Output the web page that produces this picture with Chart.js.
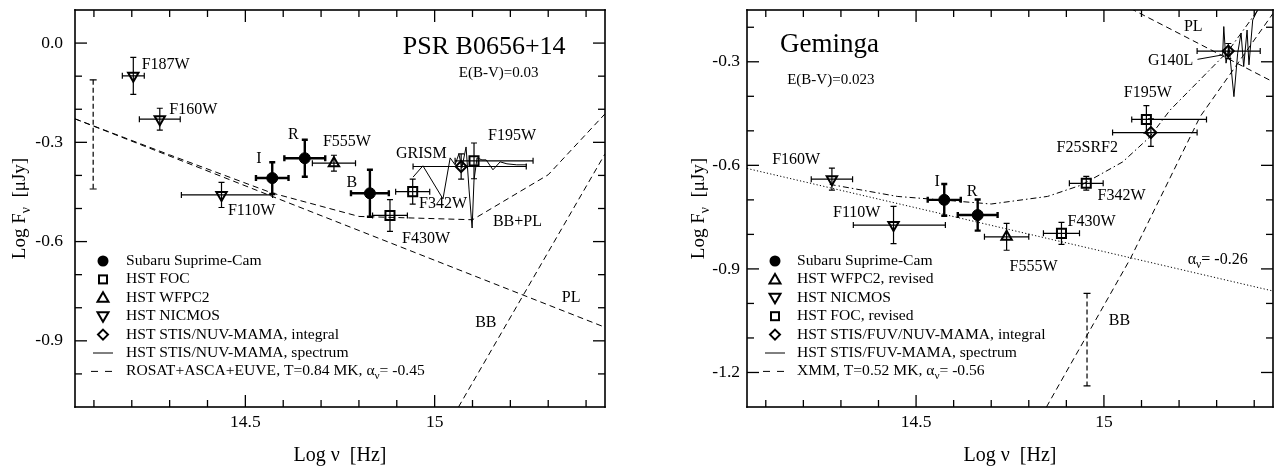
<!DOCTYPE html>
<html><head><meta charset="utf-8">
<script src="https://cdn.jsdelivr.net/npm/chart.js@4.4.1/dist/chart.umd.min.js"></script>
<style>
body{margin:0;background:#fff;width:1282px;height:468px;overflow:hidden;position:relative}
#c1{position:absolute;left:0;top:0}
#c2{position:absolute;left:640px;top:0}
</style></head><body>
<canvas id="c1" width="640" height="468"></canvas>
<canvas id="c2" width="642" height="468"></canvas>
<script>
const FONT = 'Liberation Serif';

// ---------------- shared axis ticks ----------------
const X_MAJOR = [14.5, 15.0];
const X_MAJOR_LABELS = ['14.5', '15'];
const X_MINOR = [14.1,14.2,14.3,14.4,14.6,14.7,14.8,14.9,15.1,15.2,15.3,15.4];

// ---------------- Left panel: PSR B0656+14 ----------------
const L_Y_MAJOR = [0.0, -0.3, -0.6, -0.9];
const L_Y_MAJOR_LABELS = ['0.0', '-0.3', '-0.6', '-0.9'];
const L_Y_MINOR = [-0.1,-0.2,-0.4,-0.5,-0.7,-0.8,-1.0];

const L_SUB_X  = [14.571, 14.657, 14.829];      // I, R, B
const L_SUB_Y  = [-0.408, -0.348, -0.454];
const L_SUB_XE = [0.043, 0.054, 0.050];
const L_SUB_YE = [0.048, 0.056, 0.071];

const L_FOC_X  = [14.882, 14.942, 15.104];      // F430W, F342W, F195W
const L_FOC_Y  = [-0.521, -0.449, -0.356];
const L_FOC_XM = [0.046, 0.045, 0.050];
const L_FOC_XP = [0.046, 0.045, 0.156];
const L_FOC_YE = [0.048, 0.038, 0.054];

const L_WF_X  = [14.734];                        // F555W
const L_WF_Y  = [-0.363];
const L_WF_XE = [0.057];
const L_WF_YE = [0.024];

const L_NIC_X  = [14.204, 14.274, 14.437];       // F187W, F160W, F110W
const L_NIC_Y  = [-0.099, -0.230, -0.459];
const L_NIC_XM = [0.029, 0.054, 0.106];
const L_NIC_XP = [0.029, 0.054, 0.135];
const L_NIC_YE = [0.056, 0.033, 0.038];

const L_STIS_X  = [15.070];
const L_STIS_Y  = [-0.373];
const L_STIS_XM = [0.127];
const L_STIS_XP = [0.172];
const L_STIS_YE = [0.038];

const L_SPEC_X = [14.943,14.969,15.022,15.041,15.054,15.064,15.072,15.083,15.091,15.099,15.104,15.112,15.125,15.136,15.154,15.173,15.191,15.217,15.244];
const L_SPEC_Y = [-0.405,-0.371,-0.471,-0.347,-0.368,-0.335,-0.377,-0.314,-0.444,-0.559,-0.414,-0.347,-0.353,-0.353,-0.383,-0.359,-0.365,-0.368,-0.368];

const L_PL_X = [14.05, 15.45];
const L_PL_Y = [-0.229, -0.859];
const L_BB_X = [15.063, 15.45];
const L_BB_Y = [-1.10, -0.335];
const L_BBPL_X = [14.05, 14.30, 14.57, 14.80, 15.10, 15.30, 15.45];
const L_BBPL_Y = [-0.229, -0.338, -0.453, -0.524, -0.534, -0.398, -0.214];

const L_LIM_X  = [14.098];
const L_LIM_LO = [-0.441];
const L_LIM_HI = [-0.111];

// ---------------- Right panel: Geminga ----------------
const R_Y_MAJOR = [-0.3, -0.6, -0.9, -1.2];
const R_Y_MAJOR_LABELS = ['-0.3', '-0.6', '-0.9', '-1.2'];
const R_Y_MINOR = [-0.2,-0.4,-0.5,-0.7,-0.8,-1.0,-1.1];

const R_SUB_X  = [14.575, 14.664];               // I, R
const R_SUB_Y  = [-0.700, -0.744];
const R_SUB_XE = [0.044, 0.053];
const R_SUB_YE = [0.046, 0.045];

const R_WF_X  = [14.741];                         // F555W
const R_WF_Y  = [-0.807];
const R_WF_XE = [0.059];
const R_WF_YE = [0.039];

const R_NIC_X  = [14.276, 14.440];                // F160W, F110W
const R_NIC_Y  = [-0.640, -0.773];
const R_NIC_XM = [0.055, 0.107];
const R_NIC_XP = [0.055, 0.138];
const R_NIC_YE = [0.032, 0.054];

const R_FOC_X  = [14.887, 14.953, 15.113];        // F430W, F342W, F195W
const R_FOC_Y  = [-0.797, -0.652, -0.467];
const R_FOC_XM = [0.048, 0.045, 0.039];
const R_FOC_XP = [0.048, 0.045, 0.160];
const R_FOC_YE = [0.032, 0.020, 0.040];

const R_STIS_X  = [15.125, 15.331];               // F25SRF2, G140L
const R_STIS_Y  = [-0.505, -0.269];
const R_STIS_XM = [0.102, 0.083];
const R_STIS_XP = [0.123, 0.085];
const R_STIS_YE = [0.040, 0.022];

const R_SPEC_X = [15.316,15.319,15.325,15.333,15.346,15.356,15.365,15.372,15.381,15.386,15.396,15.409];
const R_SPEC_Y = [-0.280,-0.198,-0.304,-0.256,-0.401,-0.275,-0.217,-0.314,-0.208,-0.309,-0.179,-0.150];

const R_PL_X = [15.00, 15.45];
const R_PL_Y = [-0.106, -0.358];
const R_BB_X = [14.847, 15.071, 15.256, 15.45];
const R_BB_Y = [-1.30, -0.869, -0.459, -0.16];
const R_OPT_X = [14.05, 15.45];                   // alpha = -0.26
const R_OPT_Y = [-0.609, -0.964];
const R_SUM_X = [14.27, 14.45, 14.60, 14.70, 14.85, 14.94, 15.05, 15.12, 15.176, 15.33, 15.41];
const R_SUM_Y = [-0.655, -0.690, -0.703, -0.712, -0.690, -0.657, -0.590, -0.520, -0.440, -0.270, -0.150];

const R_LIM_X  = [14.955];
const R_LIM_LO = [-1.239];
const R_LIM_HI = [-0.971];

// ---------------- helpers ----------------
const pts = (xs, ys) => xs.map((x, i) => ({x, y: ys[i]}));

function drawRich(ctx, segs, x, y, size, align) {
  ctx.save();
  ctx.textBaseline = 'middle';
  ctx.fillStyle = '#000';
  const widths = segs.map(s => { ctx.font = (s.sub ? size*0.72 : size) + 'px "' + FONT + '"'; return ctx.measureText(s.t).width; });
  const total = widths.reduce((a, b) => a + b, 0);
  let cx = align === 'center' ? x - total/2 : x;
  segs.forEach((s, i) => {
    ctx.font = (s.sub ? size*0.72 : size) + 'px "' + FONT + '"';
    ctx.textAlign = 'left';
    ctx.fillText(s.t, cx, y + (s.sub ? size*0.32 : 0));
    cx += widths[i];
  });
  ctx.restore();
}

function marker(ctx, kind, x, y) {
  ctx.save();
  ctx.setLineDash([]);
  ctx.strokeStyle = '#000'; ctx.fillStyle = '#000'; ctx.lineWidth = 2;
  ctx.beginPath();
  if (kind === 'circle') { ctx.arc(x, y, 5.5, 0, 2*Math.PI); ctx.fill(); }
  else if (kind === 'square') { ctx.strokeRect(x-4, y-4, 8, 8); }
  else if (kind === 'up') { ctx.moveTo(x, y-5.5); ctx.lineTo(x+5.5, y+4); ctx.lineTo(x-5.5, y+4); ctx.closePath(); ctx.stroke(); }
  else if (kind === 'down') { ctx.moveTo(x, y+5.5); ctx.lineTo(x+5.5, y-4); ctx.lineTo(x-5.5, y-4); ctx.closePath(); ctx.stroke(); }
  else if (kind === 'diamond') { ctx.moveTo(x, y-5); ctx.lineTo(x+5, y); ctx.lineTo(x, y+5); ctx.lineTo(x-5, y); ctx.closePath(); ctx.stroke(); }
  else if (kind === 'solid') { ctx.lineWidth = 1; ctx.moveTo(x-10, y); ctx.lineTo(x+10, y); ctx.stroke(); }
  else if (kind === 'dashed') { ctx.lineWidth = 1; ctx.moveTo(x-12, y); ctx.lineTo(x-5, y); ctx.moveTo(x+2, y); ctx.lineTo(x+9, y); ctx.stroke(); }
  ctx.restore();
}

const sedPlugin = {
  id: 'sed',
  beforeDatasetsDraw(chart, args, o) {
    const ctx = chart.ctx, xs = chart.scales.x, ys = chart.scales.y;
    ctx.save();
    ctx.setLineDash([]);
    ctx.strokeStyle = '#000';
    (o.errorbars || []).forEach(g => {
      ctx.lineWidth = g.lw;
      g.x.forEach((xv, i) => {
        const px = xs.getPixelForValue(xv), py = ys.getPixelForValue(g.y[i]);
        const x1 = xs.getPixelForValue(xv - g.xm[i]), x2 = xs.getPixelForValue(xv + g.xp[i]);
        const y1 = ys.getPixelForValue(g.y[i] + g.ye[i]), y2 = ys.getPixelForValue(g.y[i] - g.ye[i]);
        ctx.beginPath();
        ctx.moveTo(x1, py); ctx.lineTo(x2, py);
        ctx.moveTo(px, y1); ctx.lineTo(px, y2);
        const c = g.cap;
        ctx.moveTo(x1, py-c); ctx.lineTo(x1, py+c);
        ctx.moveTo(x2, py-c); ctx.lineTo(x2, py+c);
        ctx.moveTo(px-c, y1); ctx.lineTo(px+c, y1);
        ctx.moveTo(px-c, y2); ctx.lineTo(px+c, y2);
        ctx.stroke();
      });
    });
    (o.limits || []).forEach(g => {
      g.x.forEach((xv, i) => {
        const px = xs.getPixelForValue(xv);
        const y1 = ys.getPixelForValue(g.hi[i]), y2 = ys.getPixelForValue(g.lo[i]);
        ctx.lineWidth = 1.2;
        ctx.setLineDash([5, 3]);
        ctx.beginPath(); ctx.moveTo(px, y1); ctx.lineTo(px, y2); ctx.stroke();
        ctx.setLineDash([]);
        ctx.beginPath();
        ctx.moveTo(px-3.5, y1); ctx.lineTo(px+3.5, y1);
        ctx.moveTo(px-3.5, y2); ctx.lineTo(px+3.5, y2);
        ctx.stroke();
      });
    });
    (o.leaders || []).forEach(l => {
      ctx.lineWidth = 1;
      ctx.beginPath();
      ctx.moveTo(xs.getPixelForValue(l[0]), ys.getPixelForValue(l[1]));
      ctx.lineTo(xs.getPixelForValue(l[2]), ys.getPixelForValue(l[3]));
      ctx.stroke();
    });
    ctx.restore();
  },
  afterDraw(chart, args, o) {
    const ctx = chart.ctx, xs = chart.scales.x, ys = chart.scales.y, a = chart.chartArea;
    ctx.save();
    ctx.setLineDash([]);
    ctx.fillStyle = '#000';
    // frame
    const fw = 1.6;
    ctx.fillRect(a.left - fw/2, a.top - fw/2, a.right - a.left + fw, fw);
    ctx.fillRect(a.left - fw/2, a.bottom - fw/2, a.right - a.left + fw, fw);
    ctx.fillRect(a.left - fw/2, a.top - fw/2, fw, a.bottom - a.top + fw);
    ctx.fillRect(a.right - fw/2, a.top - fw/2, fw, a.bottom - a.top + fw);
    // inward ticks on all four sides
    const tw = 1.3;
    const tickX = (v, len) => { const p = xs.getPixelForValue(v);
      ctx.fillRect(p - tw/2, a.bottom - len, tw, len);
      ctx.fillRect(p - tw/2, a.top, tw, len); };
    const tickY = (v, len) => { const p = ys.getPixelForValue(v);
      ctx.fillRect(a.left, p - tw/2, len, tw);
      ctx.fillRect(a.right - len, p - tw/2, len, tw); };
    for (const v of o.xMajor) tickX(v, 12);
    for (const v of o.xMinor) tickX(v, 7);
    for (const v of o.yMajor) tickY(v, 12);
    for (const v of o.yMinor) tickY(v, 7);
    // text labels inside plot
    (o.labels || []).forEach(l => {
      drawRich(ctx, l.segs, xs.getPixelForValue(l.x), ys.getPixelForValue(l.y), l.size, l.align || 'left');
    });
    // legend
    const lg = o.legend;
    lg.items.forEach((it, i) => {
      const y = a.top + lg.top + i * lg.step;
      marker(ctx, it.kind, a.left + lg.mx, y);
      drawRich(ctx, it.segs, a.left + lg.tx, y, lg.size, 'left');
    });
    // y axis title (rotated)
    ctx.save();
    ctx.translate(o.yTitleX, (a.top + a.bottom) / 2);
    ctx.rotate(-Math.PI / 2);
    drawRich(ctx, [{t:'Log F'}, {t:'ν', sub:true}, {t:'  [μJy]'}], 0, 0, 19, 'center');
    ctx.restore();
    ctx.restore();
  }
};

function scatterDS(xs, ys, style, radius, rot, filled) {
  return { type: 'scatter', data: pts(xs, ys), pointStyle: style, pointRadius: radius,
    pointRotation: rot || 0, backgroundColor: filled ? '#000' : 'rgba(0,0,0,0)',
    borderColor: '#000', pointBorderWidth: filled ? 1 : 2, showLine: false, order: 0 };
}
function lineDS(xs, ys, dash, w) {
  return { type: 'line', data: pts(xs, ys), borderColor: '#000', borderWidth: w || 1,
    borderDash: dash || [], pointRadius: 0, showLine: true, fill: false, tension: 0, order: 1 };
}

function makeChart(id, datasets, opt) {
  return new Chart(document.getElementById(id), {
    type: 'scatter',
    data: { datasets },
    options: {
      responsive: false, animation: false, events: [], devicePixelRatio: 1,
      layout: { padding: { top: 10, right: opt.padRight, left: 0, bottom: 0 } },
      plugins: { legend: { display: false }, tooltip: { enabled: false }, sed: opt.sed },
      scales: {
        x: {
          type: 'linear', min: 14.05, max: 15.45,
          afterBuildTicks: ax => { ax.ticks = X_MAJOR.map(v => ({ value: v })); },
          afterFit: ax => { ax.height = 61; ax.paddingLeft = 0; ax.paddingRight = 0; },
          grid: { display: false, drawTicks: false }, border: { display: false },
          ticks: { color: '#000', font: { family: FONT, size: 17.5 }, padding: 5, maxRotation: 0, autoSkip: false,
            callback: v => { const i = X_MAJOR.findIndex(t => Math.abs(t - v) < 1e-9); return i >= 0 ? X_MAJOR_LABELS[i] : ''; } },
          title: { display: true, text: 'Log ν  [Hz]', color: '#000', font: { family: FONT, size: 20 }, padding: { top: 0, bottom: 0 } }
        },
        y: {
          type: 'linear', min: opt.yMin, max: opt.yMax,
          afterBuildTicks: ax => { ax.ticks = opt.yMajor.map(v => ({ value: v })); },
          afterFit: ax => { ax.width = opt.yWidth; ax.paddingTop = 0; ax.paddingBottom = 0; },
          grid: { display: false, drawTicks: false }, border: { display: false },
          ticks: { color: '#000', font: { family: FONT, size: 17.5 }, padding: opt.yPad, autoSkip: false,
            callback: v => { const i = opt.yMajor.findIndex(t => Math.abs(t - v) < 1e-9); return i >= 0 ? opt.yLabels[i] : ''; } }
        }
      }
    },
    plugins: [sedPlugin]
  });
}

Chart.defaults.font.family = FONT;

// ---------- left chart ----------
makeChart('c1', [
  scatterDS(L_SUB_X, L_SUB_Y, 'circle', 5.5, 0, true),
  scatterDS(L_FOC_X, L_FOC_Y, 'rect', 6.4),
  scatterDS(L_WF_X, L_WF_Y, 'triangle', 6),
  scatterDS(L_NIC_X, L_NIC_Y, 'triangle', 6, 180),
  scatterDS(L_STIS_X, L_STIS_Y, 'rectRot', 5.5),
  lineDS(L_SPEC_X, L_SPEC_Y, [], 1),
  lineDS(L_PL_X, L_PL_Y, [6, 4], 1),
  lineDS(L_BB_X, L_BB_Y, [6, 4], 1),
  lineDS(L_BBPL_X, L_BBPL_Y, [6, 4], 1)
], {
  padRight: 35, yMin: -1.1, yMax: 0.1, yWidth: 75, yPad: 12,
  yMajor: L_Y_MAJOR, yLabels: L_Y_MAJOR_LABELS,
  sed: {
    xMajor: X_MAJOR, xMinor: X_MINOR, yMajor: L_Y_MAJOR, yMinor: L_Y_MINOR, yTitleX: 20,
    errorbars: [
      { x: L_SUB_X, y: L_SUB_Y, xm: L_SUB_XE, xp: L_SUB_XE, ye: L_SUB_YE, lw: 2.4, cap: 3 },
      { x: L_FOC_X, y: L_FOC_Y, xm: L_FOC_XM, xp: L_FOC_XP, ye: L_FOC_YE, lw: 1.2, cap: 3 },
      { x: L_WF_X, y: L_WF_Y, xm: L_WF_XE, xp: L_WF_XE, ye: L_WF_YE, lw: 1.2, cap: 3 },
      { x: L_NIC_X, y: L_NIC_Y, xm: L_NIC_XM, xp: L_NIC_XP, ye: L_NIC_YE, lw: 1.2, cap: 3 },
      { x: L_STIS_X, y: L_STIS_Y, xm: L_STIS_XM, xp: L_STIS_XP, ye: L_STIS_YE, lw: 1.2, cap: 3 }
    ],
    limits: [{ x: L_LIM_X, lo: L_LIM_LO, hi: L_LIM_HI }],
    labels: [
      { segs: [{t:'F187W'}], x: 14.226, y: -0.066, size: 16 },
      { segs: [{t:'F160W'}], x: 14.299, y: -0.202, size: 16 },
      { segs: [{t:'F110W'}], x: 14.454, y: -0.507, size: 16 },
      { segs: [{t:'I'}], x: 14.536, y: -0.351, size: 16, align: 'center' },
      { segs: [{t:'R'}], x: 14.627, y: -0.278, size: 16, align: 'center' },
      { segs: [{t:'F555W'}], x: 14.705, y: -0.299, size: 16 },
      { segs: [{t:'B'}], x: 14.781, y: -0.422, size: 16, align: 'center' },
      { segs: [{t:'GRISM'}], x: 14.898, y: -0.335, size: 16 },
      { segs: [{t:'F195W'}], x: 15.141, y: -0.281, size: 16 },
      { segs: [{t:'F342W'}], x: 14.959, y: -0.486, size: 16 },
      { segs: [{t:'F430W'}], x: 14.914, y: -0.592, size: 16 },
      { segs: [{t:'BB+PL'}], x: 15.154, y: -0.540, size: 16 },
      { segs: [{t:'PL'}], x: 15.336, y: -0.770, size: 16 },
      { segs: [{t:'BB'}], x: 15.107, y: -0.846, size: 16 },
      { segs: [{t:'PSR B0656+14'}], x: 14.916, y: -0.012, size: 26 },
      { segs: [{t:'E(B-V)=0.03'}], x: 15.064, y: -0.090, size: 15 }
    ],
    legend: {
      mx: 28, tx: 51, top: 251, step: 18.4, size: 15.6,
      items: [
        { kind: 'circle', segs: [{t:'Subaru Suprime-Cam'}] },
        { kind: 'square', segs: [{t:'HST FOC'}] },
        { kind: 'up', segs: [{t:'HST WFPC2'}] },
        { kind: 'down', segs: [{t:'HST NICMOS'}] },
        { kind: 'diamond', segs: [{t:'HST STIS/NUV-MAMA, integral'}] },
        { kind: 'solid', segs: [{t:'HST STIS/NUV-MAMA, spectrum'}] },
        { kind: 'dashed', segs: [{t:'ROSAT+ASCA+EUVE, T=0.84 MK, α'}, {t:'ν', sub: true}, {t:'= -0.45'}] }
      ]
    }
  }
});

// ---------- right chart ----------
makeChart('c2', [
  scatterDS(R_SUB_X, R_SUB_Y, 'circle', 5.5, 0, true),
  scatterDS(R_WF_X, R_WF_Y, 'triangle', 6),
  scatterDS(R_NIC_X, R_NIC_Y, 'triangle', 6, 180),
  scatterDS(R_FOC_X, R_FOC_Y, 'rect', 6.4),
  scatterDS(R_STIS_X, R_STIS_Y, 'rectRot', 5.5),
  lineDS(R_SPEC_X, R_SPEC_Y, [], 1),
  lineDS(R_PL_X, R_PL_Y, [6, 4], 1),
  lineDS(R_BB_X, R_BB_Y, [6, 4], 1),
  lineDS(R_OPT_X, R_OPT_Y, [1.2, 2.2], 1),
  lineDS(R_SUM_X, R_SUM_Y, [6, 3, 1.5, 3], 1)
], {
  padRight: 9, yMin: -1.3, yMax: -0.15, yWidth: 107, yPad: 7,
  yMajor: R_Y_MAJOR, yLabels: R_Y_MAJOR_LABELS,
  sed: {
    xMajor: X_MAJOR, xMinor: X_MINOR, yMajor: R_Y_MAJOR, yMinor: R_Y_MINOR, yTitleX: 59,
    errorbars: [
      { x: R_SUB_X, y: R_SUB_Y, xm: R_SUB_XE, xp: R_SUB_XE, ye: R_SUB_YE, lw: 2.4, cap: 3 },
      { x: R_WF_X, y: R_WF_Y, xm: R_WF_XE, xp: R_WF_XE, ye: R_WF_YE, lw: 1.2, cap: 3 },
      { x: R_NIC_X, y: R_NIC_Y, xm: R_NIC_XM, xp: R_NIC_XP, ye: R_NIC_YE, lw: 1.2, cap: 3 },
      { x: R_FOC_X, y: R_FOC_Y, xm: R_FOC_XM, xp: R_FOC_XP, ye: R_FOC_YE, lw: 1.2, cap: 3 },
      { x: R_STIS_X, y: R_STIS_Y, xm: R_STIS_XM, xp: R_STIS_XP, ye: R_STIS_YE, lw: 1.2, cap: 3 }
    ],
    limits: [{ x: R_LIM_X, lo: R_LIM_LO, hi: R_LIM_HI }],
    leaders: [[15.249, -0.293, 15.316, -0.280]],
    labels: [
      { segs: [{t:'Geminga'}], x: 14.138, y: -0.251, size: 27 },
      { segs: [{t:'E(B-V)=0.023'}], x: 14.157, y: -0.353, size: 15 },
      { segs: [{t:'F160W'}], x: 14.117, y: -0.585, size: 16 },
      { segs: [{t:'I'}], x: 14.556, y: -0.649, size: 16, align: 'center' },
      { segs: [{t:'R'}], x: 14.649, y: -0.677, size: 16, align: 'center' },
      { segs: [{t:'F110W'}], x: 14.279, y: -0.738, size: 16 },
      { segs: [{t:'F555W'}], x: 14.749, y: -0.895, size: 16 },
      { segs: [{t:'F430W'}], x: 14.903, y: -0.764, size: 16 },
      { segs: [{t:'F342W'}], x: 14.983, y: -0.689, size: 16 },
      { segs: [{t:'F25SRF2'}], x: 14.874, y: -0.550, size: 16 },
      { segs: [{t:'F195W'}], x: 15.053, y: -0.391, size: 16 },
      { segs: [{t:'G140L'}], x: 15.117, y: -0.298, size: 16 },
      { segs: [{t:'PL'}], x: 15.213, y: -0.199, size: 16 },
      { segs: [{t:'α'}, {t:'ν', sub: true}, {t:'= -0.26'}], x: 15.223, y: -0.875, size: 16 },
      { segs: [{t:'BB'}], x: 15.013, y: -1.049, size: 16 }
    ],
    legend: {
      mx: 28, tx: 50, top: 251, step: 18.4, size: 15.6,
      items: [
        { kind: 'circle', segs: [{t:'Subaru Suprime-Cam'}] },
        { kind: 'up', segs: [{t:'HST WFPC2, revised'}] },
        { kind: 'down', segs: [{t:'HST NICMOS'}] },
        { kind: 'square', segs: [{t:'HST FOC, revised'}] },
        { kind: 'diamond', segs: [{t:'HST STIS/FUV/NUV-MAMA, integral'}] },
        { kind: 'solid', segs: [{t:'HST STIS/FUV-MAMA, spectrum'}] },
        { kind: 'dashed', segs: [{t:'XMM, T=0.52 MK, α'}, {t:'ν', sub: true}, {t:'= -0.56'}] }
      ]
    }
  }
});
</script>
</body></html>
